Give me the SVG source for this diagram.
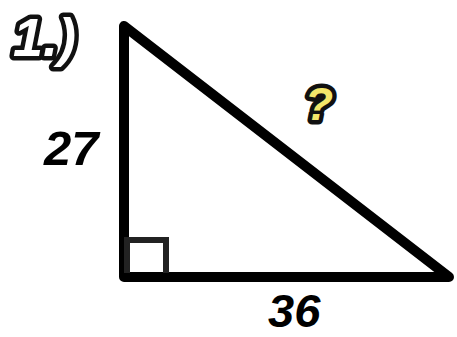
<svg xmlns="http://www.w3.org/2000/svg" width="457" height="337" viewBox="0 0 457 337">
<style>
.lbl{font-family:"Liberation Sans",Arial,sans-serif;font-weight:bold;font-style:italic;fill:#000}
.out{font-family:"Liberation Sans",Arial,sans-serif;font-weight:bold;font-style:italic;stroke:#111;stroke-width:9;stroke-linejoin:round;paint-order:stroke}
</style>
<rect width="457" height="337" fill="#fff"/>
<g id="title"><text class="out" x="13" y="56" font-size="54" fill="#fff">1.)</text></g>
<g id="triangle">
<path d="M124,26 L124,277 L449,277 Z" fill="none" stroke="#000" stroke-width="10" stroke-linejoin="round"/>
<path d="M127,273 V240 H166 V273" fill="none" stroke="#222" stroke-width="6"/>
</g>
<g id="label-27"><text class="lbl" x="44" y="165" font-size="49">27</text></g>
<g id="label-36"><text class="lbl" x="268" y="327" font-size="47">36</text></g>
<g id="label-q"><text class="out" x="305" y="120" font-size="46" fill="#f2e66a" stroke-width="8">?</text></g>
</svg>
